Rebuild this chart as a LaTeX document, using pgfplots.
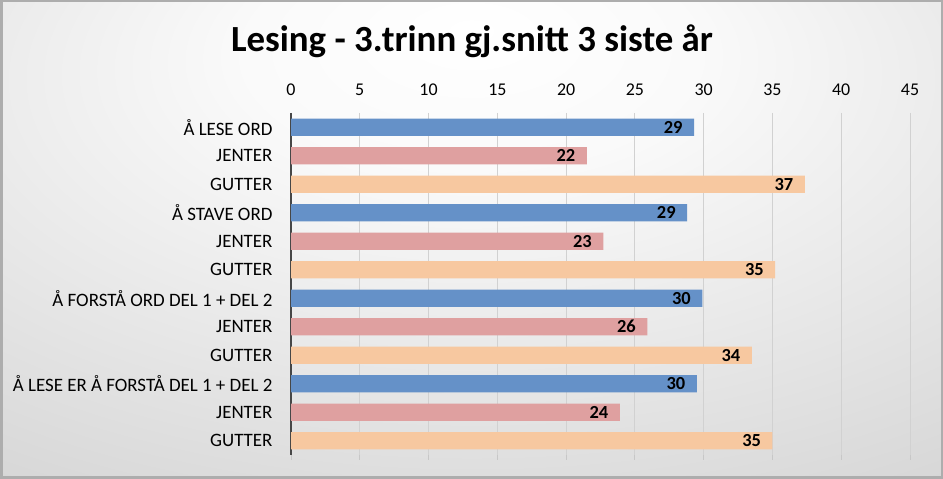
\documentclass[border=0pt]{standalone}
\usepackage{pgfplots}
\pgfplotsset{compat=1.18}
\usepackage{fontspec}
\setmainfont{Carlito}
\definecolor{cblue}{HTML}{6591C8}
\definecolor{cpink}{HTML}{DFA0A0}
\definecolor{cpeach}{HTML}{F7C8A0}
\pgfdeclareradialshading{bgshade}{\pgfpoint{0bp}{22bp}}{color(0bp)=(white); color(12bp)=(white!98!black); color(55bp)=(white!80!black); color(100bp)=(white!74!black)}
\begin{document}
\begin{tikzpicture}[x=1bp,y=1bp]
\shade[shading=bgshade] (0,0) rectangle (943,479);
\draw[color=white!68!black, line width=2.5bp] (1.25,1.25) rectangle (941.75,477.75);
\useasboundingbox (0,0) rectangle (943,479);
\node[font=\bfseries\fontsize{37}{42}\selectfont, inner sep=0pt] at (472,438) {Lesing - 3.trinn gj.snitt 3 siste år};
\begin{axis}[
  at={(291bp,24bp)}, anchor=south west,
  scale only axis, width=619bp, height=342bp,
  xbar, bar width=0.6, bar shift=0pt,
  xmin=0, xmax=45,
  ymin=-0.5, ymax=11.5, y dir=reverse,
  xtick={0,5,...,45},
  xticklabel pos=top, xtick pos=bottom,
  tick align=outside,
  x tick label style={font=\fontsize{18}{20}\selectfont, yshift=9bp},
  major tick length=5bp,
  xtick style={draw=white!78!black, line width=1bp},
  xmajorgrids, grid style={draw=white!82!black, line width=1bp},
  ytick={0,...,11},
  yticklabels={Å LESE ORD, JENTER, GUTTER, Å STAVE ORD, JENTER, GUTTER, Å FORSTÅ ORD DEL 1 + DEL 2, JENTER, GUTTER, Å LESE ER Å FORSTÅ DEL 1 + DEL 2, JENTER, GUTTER},
  y tick label style={font=\fontsize{19}{22}\selectfont, xshift=-10bp},
  ytick style={draw=none},
  axis line style={draw=none},
  extra x ticks={0}, extra x tick labels={},
  extra x tick style={grid style={draw=black!72, line width=2bp}, xtick style={draw=none}},
  /pgf/number format/assume math mode=true,
  point meta=explicit symbolic,
  nodes near coords={\pgfplotspointmeta},
  every node near coord/.append style={anchor=east, font=\bfseries\fontsize{18.5}{21}\selectfont, xshift=-8bp, text=black},
]
\addplot[draw=none, fill=cblue] coordinates {(29.3,0) [29] (28.8,3) [29] (29.9,6) [30] (29.5,9) [30]};
\addplot[draw=none, fill=cpink] coordinates {(21.5,1) [22] (22.7,4) [23] (25.9,7) [26] (23.9,10) [24]};
\addplot[draw=none, fill=cpeach] coordinates {(37.35,2) [37] (35.2,5) [35] (33.5,8) [34] (35.0,11) [35]};
\end{axis}
\end{tikzpicture}
\end{document}
